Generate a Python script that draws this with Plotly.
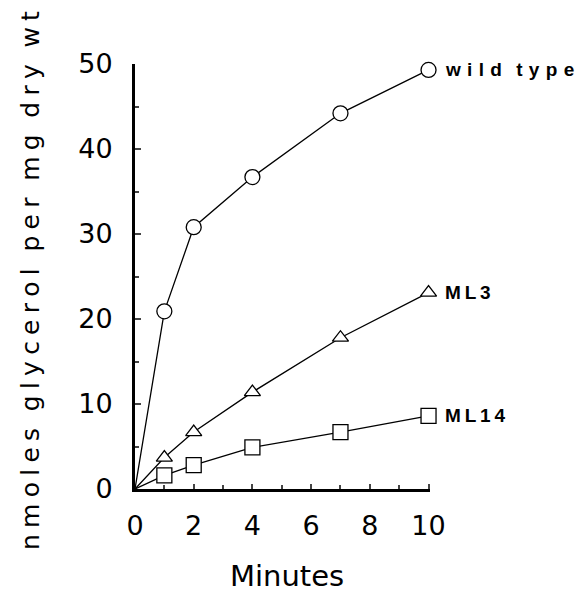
import plotly.graph_objects as go

minutes = [0, 1, 2, 4, 7, 10]
wild_type = [0, 20.9, 30.8, 36.7, 44.2, 49.3]
ml3 = [0, 3.7, 6.7, 11.4, 17.8, 23.1]
ml14 = [0, 1.6, 2.8, 4.9, 6.7, 8.6]
series_names = ["wild type", "ML3", "ML14"]
x_ticks = [0, 2, 4, 6, 8, 10]
y_ticks = [0, 10, 20, 30, 40, 50]

FONT = "DejaVu Sans"

def spaced(s, sep="\u2009"):
    return sep.join(list(s))

fig = go.Figure()
symbols = ["circle", "triangle-up", "square"]
sizes = [15, 14, 15]
for ys, sym, sz in zip([wild_type, ml3, ml14], symbols, sizes):
    fig.add_trace(go.Scatter(
        x=minutes, y=ys, mode="lines", line=dict(color="black", width=1.3),
        showlegend=False, hoverinfo="skip"))
    fig.add_trace(go.Scatter(
        x=minutes[1:], y=ys[1:], mode="markers",
        marker=dict(symbol=sym, size=sz, color="white",
                    line=dict(color="black", width=1.3)),
        cliponaxis=False, showlegend=False))

label_seps = ["\u2004", "\u2009", "\u2009"]
for name, ys, sep in zip(series_names, [wild_type, ml3, ml14], label_seps):
    words = name.split()
    txt = "\u2002\u2005".join(spaced(w, sep) for w in words)
    fig.add_annotation(x=minutes[-1], y=ys[-1], xref="x", yref="y",
                       text="<b>" + txt + "</b>",
                       showarrow=False, xanchor="left", xshift=14,
                       font=dict(family="Liberation Sans", size=19, color="black"))

ytitle = "\u2002\u2006".join(spaced(w, "\u2005") for w in "nmoles glycerol per mg dry wt".split())
fig.add_annotation(x=-105 / 295, y=(489 - 281) / 425, xref="paper", yref="paper",
                   text=ytitle, textangle=-90, showarrow=False,
                   xanchor="center", yanchor="middle",
                   font=dict(family=FONT, size=25, color="black"))
fig.add_annotation(x=(287 - 135) / 295, y=-(576 - 489) / 425, xref="paper", yref="paper",
                   text="Minutes", showarrow=False,
                   xanchor="center", yanchor="middle",
                   font=dict(family=FONT, size=29, color="black"))

fig.update_layout(
    width=587, height=592,
    margin=dict(l=135, r=157, t=64, b=103),
    paper_bgcolor="white", plot_bgcolor="white",
    xaxis=dict(range=[0, 10.05], tickvals=x_ticks, ticks="inside", ticklen=5,
               tickwidth=2, showline=True, linewidth=3, linecolor="black",
               showgrid=False, zeroline=False, automargin=False,
               minor=dict(dtick=1, ticks="inside", ticklen=4, tickwidth=2),
               tickfont=dict(family=FONT, size=27, color="black"),
               ticklabelstandoff=11),
    yaxis=dict(range=[0, 50], tickvals=y_ticks, ticks="inside", ticklen=6,
               tickwidth=2, showline=True, linewidth=3, linecolor="black",
               showgrid=False, zeroline=False, automargin=False,
               minor=dict(dtick=5, ticks="inside", ticklen=4, tickwidth=2),
               tickfont=dict(family=FONT, size=27, color="black"),
               ticklabelstandoff=14),
)

fig.write_html("out.html")
